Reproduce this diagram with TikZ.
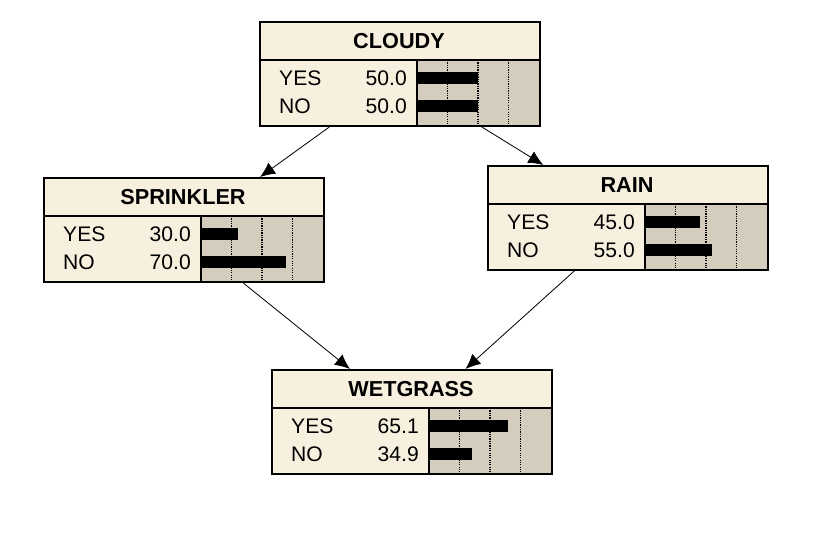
\documentclass[tikz,border=0pt]{standalone}
\usepackage{fontspec}
\setmainfont{Liberation Sans}
\usetikzlibrary{arrows.meta,calc}

\definecolor{cream}{RGB}{248,240,223}
\definecolor{bargray}{RGB}{212,204,189}

\tikzset{
  title/.style={font=\bfseries\fontsize{18.5}{21}\selectfont},
  row/.style={font=\fontsize{18}{21}\selectfont,inner sep=0pt},
  frame/.style={draw,line width=1.6pt,inner sep=0pt,minimum width=8.4cm,minimum height=3.12cm,anchor=north west},
  link/.style={-{Latex[length=0.45cm,width=0.4cm]},line width=0.7pt}
}

% name, left, top, title, yes, no
\newcommand{\bnnode}[6]{%
  \begin{scope}[shift={(#2,#3)}]
    \fill[cream] (0,0) rectangle (280,104);
    \fill[bargray] (158,39) rectangle (280,104);
    \foreach \d in {30.5,61,91.5}
      \draw[line width=1.3pt,dash pattern=on 1pt off 1pt] (158+\d,39) -- (158+\d,104);
    \fill (158,51) rectangle ({158+1.22*#5},63);
    \fill (158,79) rectangle ({158+1.22*#6},91);
    \draw[line width=1.2pt] (0,39) -- (280,39) (158,39) -- (158,104);
    \node[title] at (140,20) {#4};
    \node[row,anchor=west] at (20,57) {YES};
    \node[row,anchor=west] at (20,85) {NO};
    \node[row,anchor=east] at (148,57) {#5};
    \node[row,anchor=east] at (148,85) {#6};
    \node[frame] (#1) at (0,0) {};
  \end{scope}}

\begin{document}
\begin{tikzpicture}[x=0.03cm,y=-0.03cm]
  \useasboundingbox[fill=white] (0,0) rectangle (820,542);

  \bnnode{cloudy}{259}{21}{CLOUDY}{50.0}{50.0}
  \bnnode{sprinkler}{43}{177}{SPRINKLER}{30.0}{70.0}
  \bnnode{rain}{487}{165}{RAIN}{45.0}{55.0}
  \bnnode{wetgrass}{271}{369}{WETGRASS}{65.1}{34.9}

  \draw[link] ($(cloudy.south west)!0.25!(cloudy.south east)$) -- ($(sprinkler.north west)!0.77!(sprinkler.north east)$);
  \draw[link] ($(cloudy.south west)!0.79!(cloudy.south east)$) -- ($(rain.north west)!0.2!(rain.north east)$);
  \draw[link] ($(sprinkler.south west)!0.71!(sprinkler.south east)$) -- ($(wetgrass.north west)!0.28!(wetgrass.north east)$);
  \draw[link] ($(rain.south west)!0.31!(rain.south east)$) -- ($(wetgrass.north west)!0.69!(wetgrass.north east)$);
\end{tikzpicture}
\end{document}
